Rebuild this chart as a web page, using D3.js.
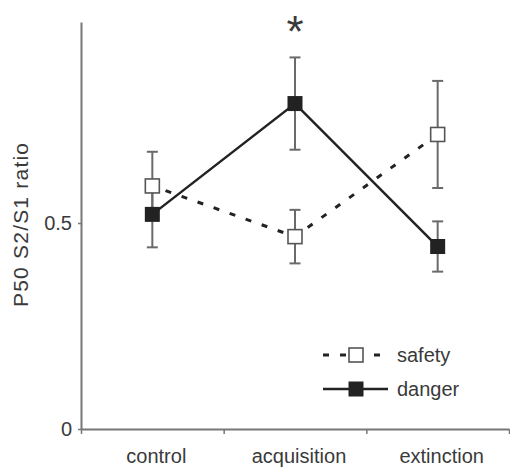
<!DOCTYPE html>
<html>
<head>
<meta charset="utf-8">
<script src="https://cdn.jsdelivr.net/npm/d3@7"></script>
<style>
  body { margin: 0; background: #fff; }
  text { font-family: "Liberation Sans", Arial, sans-serif; fill: #3a3a3a; }
</style>
</head>
<body>
<div id="chart"></div>
<script>
// values
const categories = ["control", "acquisition", "extinction"];
const safetyMean = [0.590, 0.467, 0.715];
const safetyErr = [0.083, 0.065, 0.130];
const dangerMean = [0.521, 0.790, 0.443];
const dangerErr = [0.080, 0.112, 0.061];
const yTicks = [0, 0.5];
const seriesNames = ["safety", "danger"];

const W = 510, H = 467;
const margin = {top: 22, right: 1, bottom: 38, left: 81};

const svg = d3.select("#chart").append("svg")
  .attr("width", W)
  .attr("height", H);

const x = d3.scaleBand()
  .domain(categories)
  .range([margin.left, W - margin.right]);

const xEdge = d3.scaleLinear()
  .domain([0, categories.length])
  .range([margin.left, W - margin.right]);

const y = d3.scaleLinear()
  .domain([0, 0.988])
  .range([H - margin.bottom, margin.top]);

const axisColor = "#777";

// y axis
const gy = svg.append("g")
  .attr("transform", "translate(" + margin.left + ",0)")
  .call(d3.axisLeft(y).tickValues(yTicks).tickFormat(d => d === 0 ? "0" : "0.5")
    .tickSize(3).tickSizeOuter(0).tickPadding(6));
gy.select(".domain").attr("stroke", axisColor).attr("stroke-width", 2);
gy.selectAll(".tick line").attr("stroke", axisColor).attr("stroke-width", 1.5);
gy.selectAll(".tick text").style("font-size", "20px").attr("fill", "#3a3a3a");

// x axis: ticks at category boundaries
const gxt = svg.append("g")
  .attr("transform", "translate(0," + y(0) + ")")
  .call(d3.axisBottom(xEdge).tickValues(d3.range(categories.length + 1))
    .tickFormat("").tickSize(5).tickSizeOuter(0));
gxt.select(".domain").attr("stroke", axisColor).attr("stroke-width", 2);
gxt.selectAll(".tick line").attr("stroke", axisColor).attr("stroke-width", 1.5);

// x labels
const gx = svg.append("g")
  .attr("transform", "translate(4," + y(0) + ")")
  .call(d3.axisBottom(x).tickSize(0).tickPadding(20));
gx.select(".domain").remove();
gx.selectAll(".tick text").style("font-size", "20px").attr("fill", "#3a3a3a");

// y label
svg.append("text")
  .attr("transform", "translate(28," + 225 + ") rotate(-90)")
  .attr("text-anchor", "middle")
  .attr("textLength", 164)
  .style("font-size", "21px")
  .text("P50 S2/S1 ratio");

// error bars
const errColor = "#6a6a6a";
const cap = 5.5;
function errorBars(mean, err) {
  const g = svg.append("g");
  categories.forEach((c, i) => {
    const cx = x(c) + x.bandwidth() / 2;
    const top = y(mean[i] + err[i]), bot = y(mean[i] - err[i]);
    g.append("line").attr("x1", cx).attr("x2", cx).attr("y1", top).attr("y2", bot)
      .attr("stroke", errColor).attr("stroke-width", 2);
    [top, bot].forEach(yy => {
      g.append("line").attr("x1", cx - cap).attr("x2", cx + cap).attr("y1", yy).attr("y2", yy)
        .attr("stroke", errColor).attr("stroke-width", 2);
    });
  });
}
errorBars(safetyMean, safetyErr);
errorBars(dangerMean, dangerErr);

const line = d3.line()
  .x((d, i) => x(categories[i]) + x.bandwidth() / 2)
  .y(d => y(d));

svg.append("path")
  .datum(safetyMean)
  .attr("fill", "none")
  .attr("stroke", "#222")
  .attr("stroke-width", 3)
  .attr("stroke-dasharray", "6,11")
  .attr("stroke-dashoffset", -14)
  .attr("d", line);

svg.append("path")
  .datum(dangerMean)
  .attr("fill", "none")
  .attr("stroke", "#222")
  .attr("stroke-width", 2.5)
  .attr("d", line);

// markers
const sz = 15;
svg.selectAll(".safety-pt")
  .data(safetyMean)
  .enter().append("rect")
  .attr("x", (d, i) => x(categories[i]) + x.bandwidth() / 2 - sz / 2 + 0.5)
  .attr("y", d => y(d) - sz / 2 + 0.5)
  .attr("width", sz - 1).attr("height", sz - 1)
  .attr("fill", "#fff")
  .attr("stroke", "#555")
  .attr("stroke-width", 1.6);

svg.selectAll(".danger-pt")
  .data(dangerMean)
  .enter().append("rect")
  .attr("x", (d, i) => x(categories[i]) + x.bandwidth() / 2 - sz / 2)
  .attr("y", d => y(d) - sz / 2)
  .attr("width", sz).attr("height", sz)
  .attr("fill", "#222");

// significance mark
svg.append("text")
  .attr("x", x("acquisition") + x.bandwidth() / 2)
  .attr("y", 47)
  .attr("text-anchor", "middle")
  .style("font-size", "44px")
  .attr("fill", "#444")
  .text("*");

// legend
const lg = svg.append("g");
const lx0 = 323, lx1 = 388, lmx = 356, ltx = 397;
const rows = [355, 389];
lg.append("line").attr("x1", lx0).attr("x2", lx1).attr("y1", rows[0]).attr("y2", rows[0])
  .attr("stroke", "#222").attr("stroke-width", 3).attr("stroke-dasharray", "6,11");
lg.append("rect").attr("x", lmx - 7).attr("y", rows[0] - 7).attr("width", 14).attr("height", 14)
  .attr("fill", "#fff").attr("stroke", "#555").attr("stroke-width", 1.6);
lg.append("line").attr("x1", lx0).attr("x2", lx1).attr("y1", rows[1]).attr("y2", rows[1])
  .attr("stroke", "#222").attr("stroke-width", 2.5);
lg.append("rect").attr("x", lmx - 7.5).attr("y", rows[1] - 7.5).attr("width", 15).attr("height", 15)
  .attr("fill", "#222");
seriesNames.forEach((n, i) => {
  lg.append("text").attr("x", ltx).attr("y", rows[i]).attr("dy", "0.35em")
    .style("font-size", "20px").text(n);
});
</script>
</body>
</html>
